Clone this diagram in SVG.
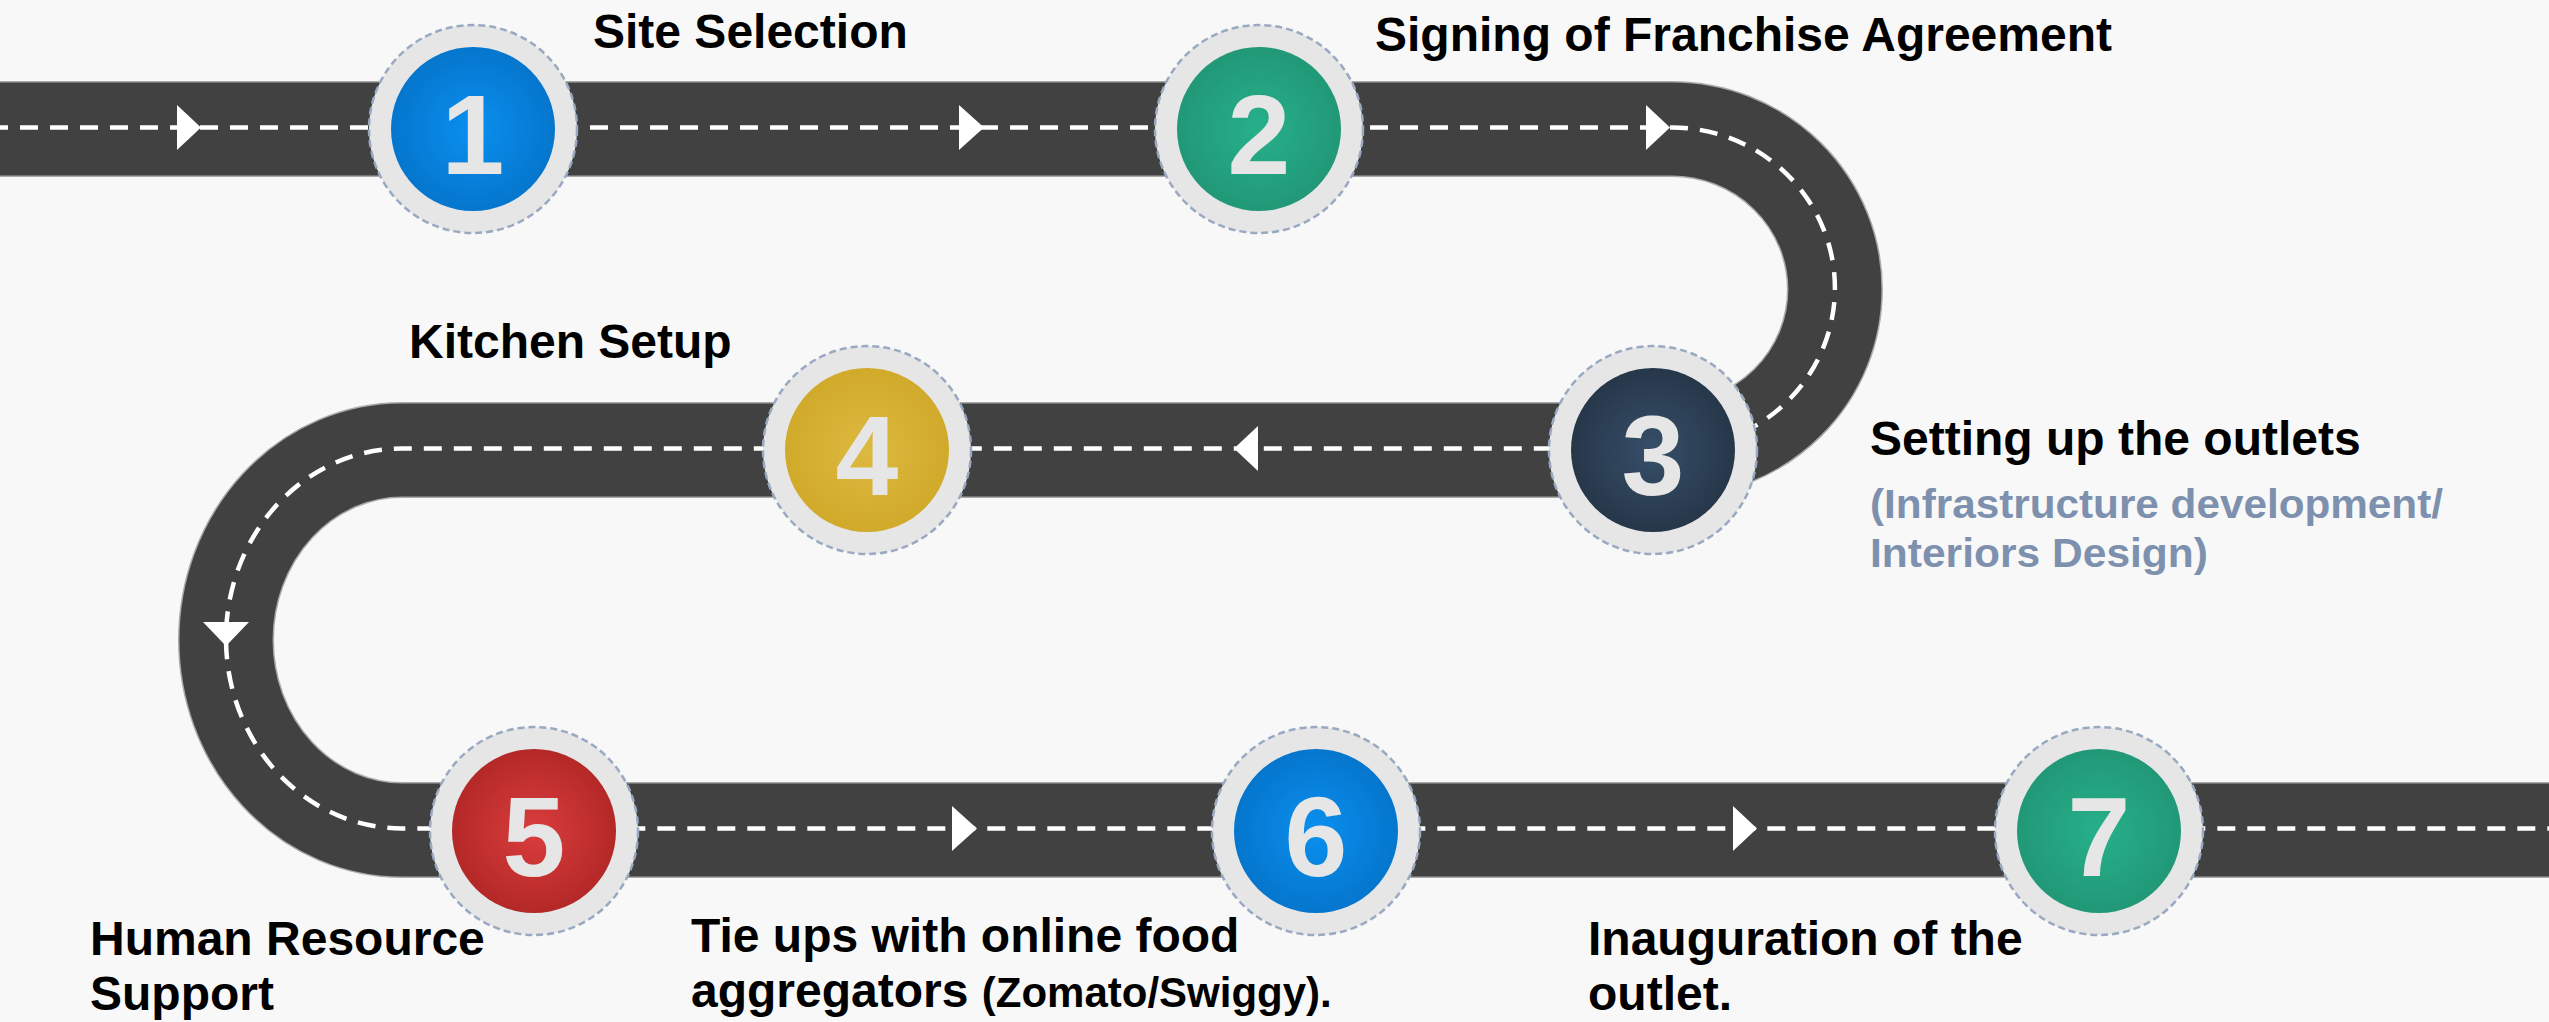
<svg xmlns="http://www.w3.org/2000/svg" width="2549" height="1022" viewBox="0 0 2549 1022">
<defs>
<radialGradient id="gBlue" cx="50%" cy="50%" r="50%"><stop offset="0" stop-color="#0a8fef"/><stop offset="1" stop-color="#0576cd"/></radialGradient>
<radialGradient id="gGreen" cx="50%" cy="50%" r="50%"><stop offset="0" stop-color="#27b08b"/><stop offset="1" stop-color="#219877"/></radialGradient>
<radialGradient id="gNavy" cx="50%" cy="50%" r="50%"><stop offset="0" stop-color="#364f69"/><stop offset="1" stop-color="#27374a"/></radialGradient>
<radialGradient id="gGold" cx="50%" cy="50%" r="50%"><stop offset="0" stop-color="#dcb93f"/><stop offset="1" stop-color="#d1aa2b"/></radialGradient>
<radialGradient id="gRed" cx="50%" cy="50%" r="50%"><stop offset="0" stop-color="#da3d3d"/><stop offset="1" stop-color="#b42828"/></radialGradient>
</defs>
<style>
.edge{fill:none;stroke:#a9a9a9;stroke-width:96}
.road{fill:none;stroke:#414141;stroke-width:93}
.lane{fill:none;stroke:#ffffff;stroke-width:4.5;stroke-dasharray:18 12}
.arr{fill:#ffffff}
.ring{fill:#e6e6e6;stroke:#9aa9c2;stroke-width:2.5;stroke-dasharray:7 4}
.num{font-family:"Liberation Sans",Arial,sans-serif;font-weight:bold;font-size:113px;fill:#e6e6e6;text-anchor:middle}
.lbl{font-family:"Liberation Sans",Arial,sans-serif;font-weight:bold;font-size:48px;fill:#000000}
.sub{font-family:"Liberation Sans",Arial,sans-serif;font-weight:bold;font-size:41px;fill:#7d91af}
</style>
<rect x="0" y="0" width="2549" height="1022" fill="#f8f8f8"/>
<g id="connectors">
<path class="edge" d="M -10 129 H 1672 A 163 160.5 0 0 1 1672 450 H 402 A 176 190 0 0 0 402 830 H 2560"/>
<path class="road" d="M -10 129 H 1672 A 163 160.5 0 0 1 1672 450 H 402 A 176 190 0 0 0 402 830 H 2560"/>
<path class="lane" d="M -10 127.5 H 1672 A 163 160.5 0 0 1 1672 448.5 H 402 A 176 190 0 0 0 402 828.5 H 2560"/>
<polygon class="arr" points="177,105 201,127.5 177,150"/>
<polygon class="arr" points="959,105 984,127.5 959,150"/>
<polygon class="arr" points="1646,105 1670,127.5 1646,150"/>
<polygon class="arr" points="1258,426 1234,448.5 1258,471"/>
<polygon class="arr" points="203,622 249,622 226,646"/>
<polygon class="arr" points="952,806 977,828.5 952,851"/>
<polygon class="arr" points="1733,806 1757,828.5 1733,851"/>
</g>
<g id="node1">
<circle class="ring" cx="473" cy="129" r="104"/>
<circle cx="473" cy="129" r="82" fill="url(#gBlue)"/>
<text class="num" x="473" y="174">1</text>
<text class="lbl" x="593" y="48">Site Selection</text>
</g>
<g id="node2">
<circle class="ring" cx="1259" cy="129" r="104"/>
<circle cx="1259" cy="129" r="82" fill="url(#gGreen)"/>
<text class="num" x="1259" y="174">2</text>
<text class="lbl" x="1375" y="51">Signing of Franchise Agreement</text>
</g>
<g id="node3">
<circle class="ring" cx="1653" cy="450" r="104"/>
<circle cx="1653" cy="450" r="82" fill="url(#gNavy)"/>
<text class="num" x="1653" y="495">3</text>
<text class="lbl" x="1870" y="455">Setting up the outlets</text>
<text class="sub" x="1870" y="518" textLength="573" lengthAdjust="spacingAndGlyphs">(Infrastructure development/</text>
<text class="sub" x="1870" y="567" textLength="338" lengthAdjust="spacingAndGlyphs">Interiors Design)</text>
</g>
<g id="node4">
<circle class="ring" cx="867" cy="450" r="104"/>
<circle cx="867" cy="450" r="82" fill="url(#gGold)"/>
<text class="num" x="867" y="495">4</text>
<text class="lbl" x="409" y="358">Kitchen Setup</text>
</g>
<g id="node5">
<circle class="ring" cx="534" cy="831" r="104"/>
<circle cx="534" cy="831" r="82" fill="url(#gRed)"/>
<text class="num" x="534" y="876">5</text>
<text class="lbl" x="90" y="955">Human Resource</text>
<text class="lbl" x="90" y="1010">Support</text>
</g>
<g id="node6">
<circle class="ring" cx="1316" cy="831" r="104"/>
<circle cx="1316" cy="831" r="82" fill="url(#gBlue)"/>
<text class="num" x="1316" y="876">6</text>
<text class="lbl" x="691" y="952">Tie ups with online food</text>
<text class="lbl" x="691" y="1007">aggregators <tspan font-size="42">(Zomato/Swiggy).</tspan></text>
</g>
<g id="node7">
<circle class="ring" cx="2099" cy="831" r="104"/>
<circle cx="2099" cy="831" r="82" fill="url(#gGreen)"/>
<text class="num" x="2099" y="876">7</text>
<text class="lbl" x="1588" y="955">Inauguration of the</text>
<text class="lbl" x="1588" y="1010">outlet.</text>
</g>
</svg>
